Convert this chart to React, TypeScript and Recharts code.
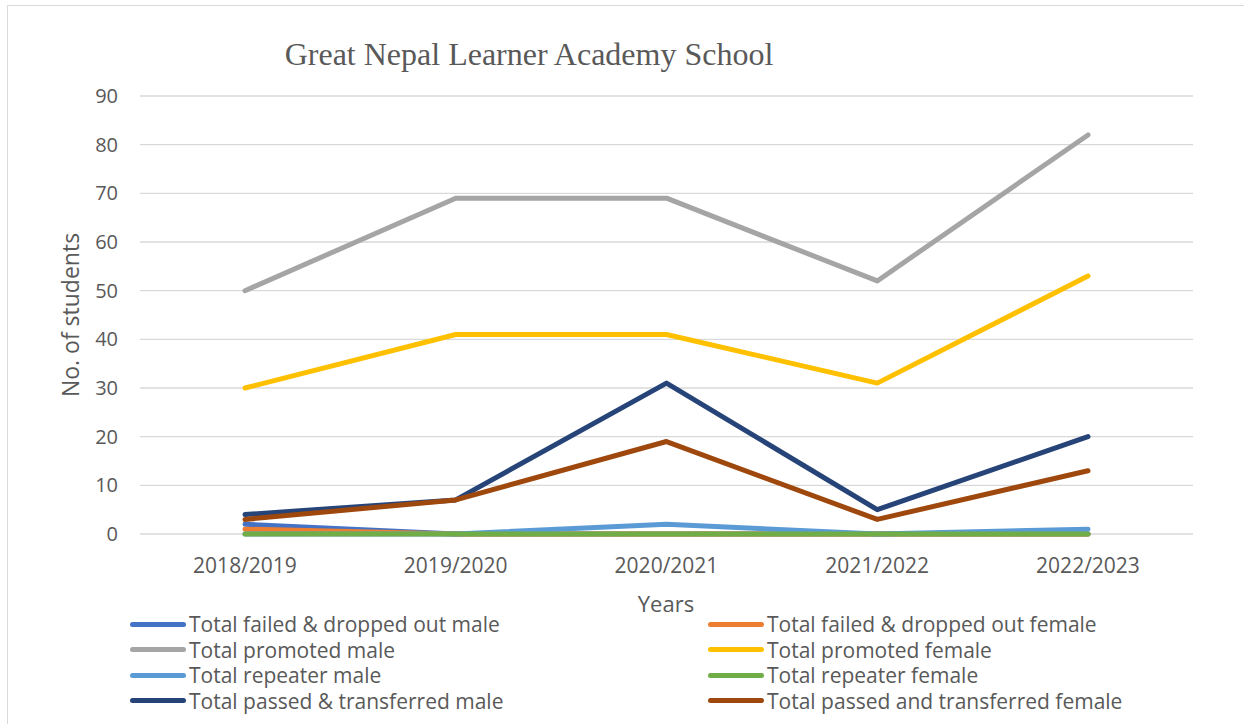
import { LineChart, Line, XAxis, YAxis, CartesianGrid } from 'recharts';

const years = ['2018/2019', '2019/2020', '2020/2021', '2021/2022', '2022/2023'];
const failedMale = [2, 0, 0, 0, 0];
const failedFemale = [1, 0, 0, 0, 0];
const promotedMale = [50, 69, 69, 52, 82];
const promotedFemale = [30, 41, 41, 31, 53];
const repeaterMale = [0, 0, 2, 0, 1];
const repeaterFemale = [0, 0, 0, 0, 0];
const passedMale = [4, 7, 31, 5, 20];
const passedFemale = [3, 7, 19, 3, 13];
const yTicks = [0, 10, 20, 30, 40, 50, 60, 70, 80, 90];

const SERIES = [
  { key: 'failedMale', name: 'Total failed & dropped out male', color: '#4472C4', values: failedMale },
  { key: 'failedFemale', name: 'Total failed & dropped out female', color: '#ED7D31', values: failedFemale },
  { key: 'promotedMale', name: 'Total promoted male', color: '#A5A5A5', values: promotedMale },
  { key: 'promotedFemale', name: 'Total promoted female', color: '#FFC000', values: promotedFemale },
  { key: 'repeaterMale', name: 'Total repeater male', color: '#5B9BD5', values: repeaterMale },
  { key: 'repeaterFemale', name: 'Total repeater female', color: '#70AD47', values: repeaterFemale },
  { key: 'passedMale', name: 'Total passed & transferred male', color: '#264478', values: passedMale },
  { key: 'passedFemale', name: 'Total passed and transferred female', color: '#9E480E', values: passedFemale },
];

const data = years.map((year, i) => {
  const row: Record<string, string | number> = { year };
  SERIES.forEach(s => { row[s.key] = s.values[i]; });
  return row;
});

const FONT = '"Open Sans", "Noto Sans", sans-serif';

export default function App() {
  return (
    <div style={{ position: 'absolute', left: 0, top: 0, width: 1244, height: 724, background: '#fff', fontFamily: FONT }}>
      <div style={{ position: 'absolute', left: 7, top: 5, width: 1240, height: 730, border: '1px solid #d9d9d9' }} />
      <div style={{
        position: 'absolute', left: 0, width: 1058, top: 36, textAlign: 'center',
        fontFamily: '"Liberation Serif", "Times New Roman", serif', fontSize: 32, color: '#595959'
      }}>
        Great Nepal Learner Academy School
      </div>
      <div style={{
        position: 'absolute', left: 70, top: 315, transform: 'translate(-50%, -50%) rotate(-90deg)',
        fontSize: 23, color: '#595959', whiteSpace: 'nowrap'
      }}>
        No. of students
      </div>
      <div style={{ position: 'absolute', left: 0, width: 1332, top: 588, textAlign: 'center', fontSize: 22, color: '#595959' }}>
        Years
      </div>
      <div style={{ position: 'absolute', left: 0, top: 0 }}>
        <LineChart width={1244} height={724} data={data} margin={{ top: 96, right: 51, left: 100, bottom: 150 }}>
          <CartesianGrid vertical={false} stroke="#d9d9d9" strokeWidth={1.3} />
          <XAxis
            dataKey="year"
            padding={{ left: 105, right: 105 }}
            axisLine={false}
            tickLine={false}
            tickSize={0}
            tickMargin={24}
            height={40}
            tick={{ fill: '#595959', fontSize: 21, fontFamily: FONT }}
          />
          <YAxis
            domain={[0, 90]}
            ticks={yTicks}
            width={40}
            axisLine={false}
            tickLine={false}
            tickSize={0}
            tickMargin={22}
            tick={{ fill: '#595959', fontSize: 20, fontFamily: FONT }}
          />
          {SERIES.map(s => (
            <Line
              key={s.key}
              type="linear"
              dataKey={s.key}
              name={s.name}
              stroke={s.color}
              strokeWidth={5}
              strokeLinecap="round"
              strokeLinejoin="round"
              dot={false}
              activeDot={false}
              isAnimationActive={false}
            />
          ))}
        </LineChart>
      </div>
      {SERIES.map((s, i) => {
        const col = i % 2;
        const row = Math.floor(i / 2);
        return (
          <div key={s.key} style={{
            position: 'absolute', left: col === 0 ? 130 : 708, top: 610 + row * 25.5,
            display: 'flex', alignItems: 'center', fontSize: 21, lineHeight: '28px', color: '#595959', whiteSpace: 'nowrap'
          }}>
            <span style={{ display: 'inline-block', width: 56, height: 5, borderRadius: 3, background: s.color, marginRight: 3 }} />
            <span>{s.name}</span>
          </div>
        );
      })}
    </div>
  );
}
